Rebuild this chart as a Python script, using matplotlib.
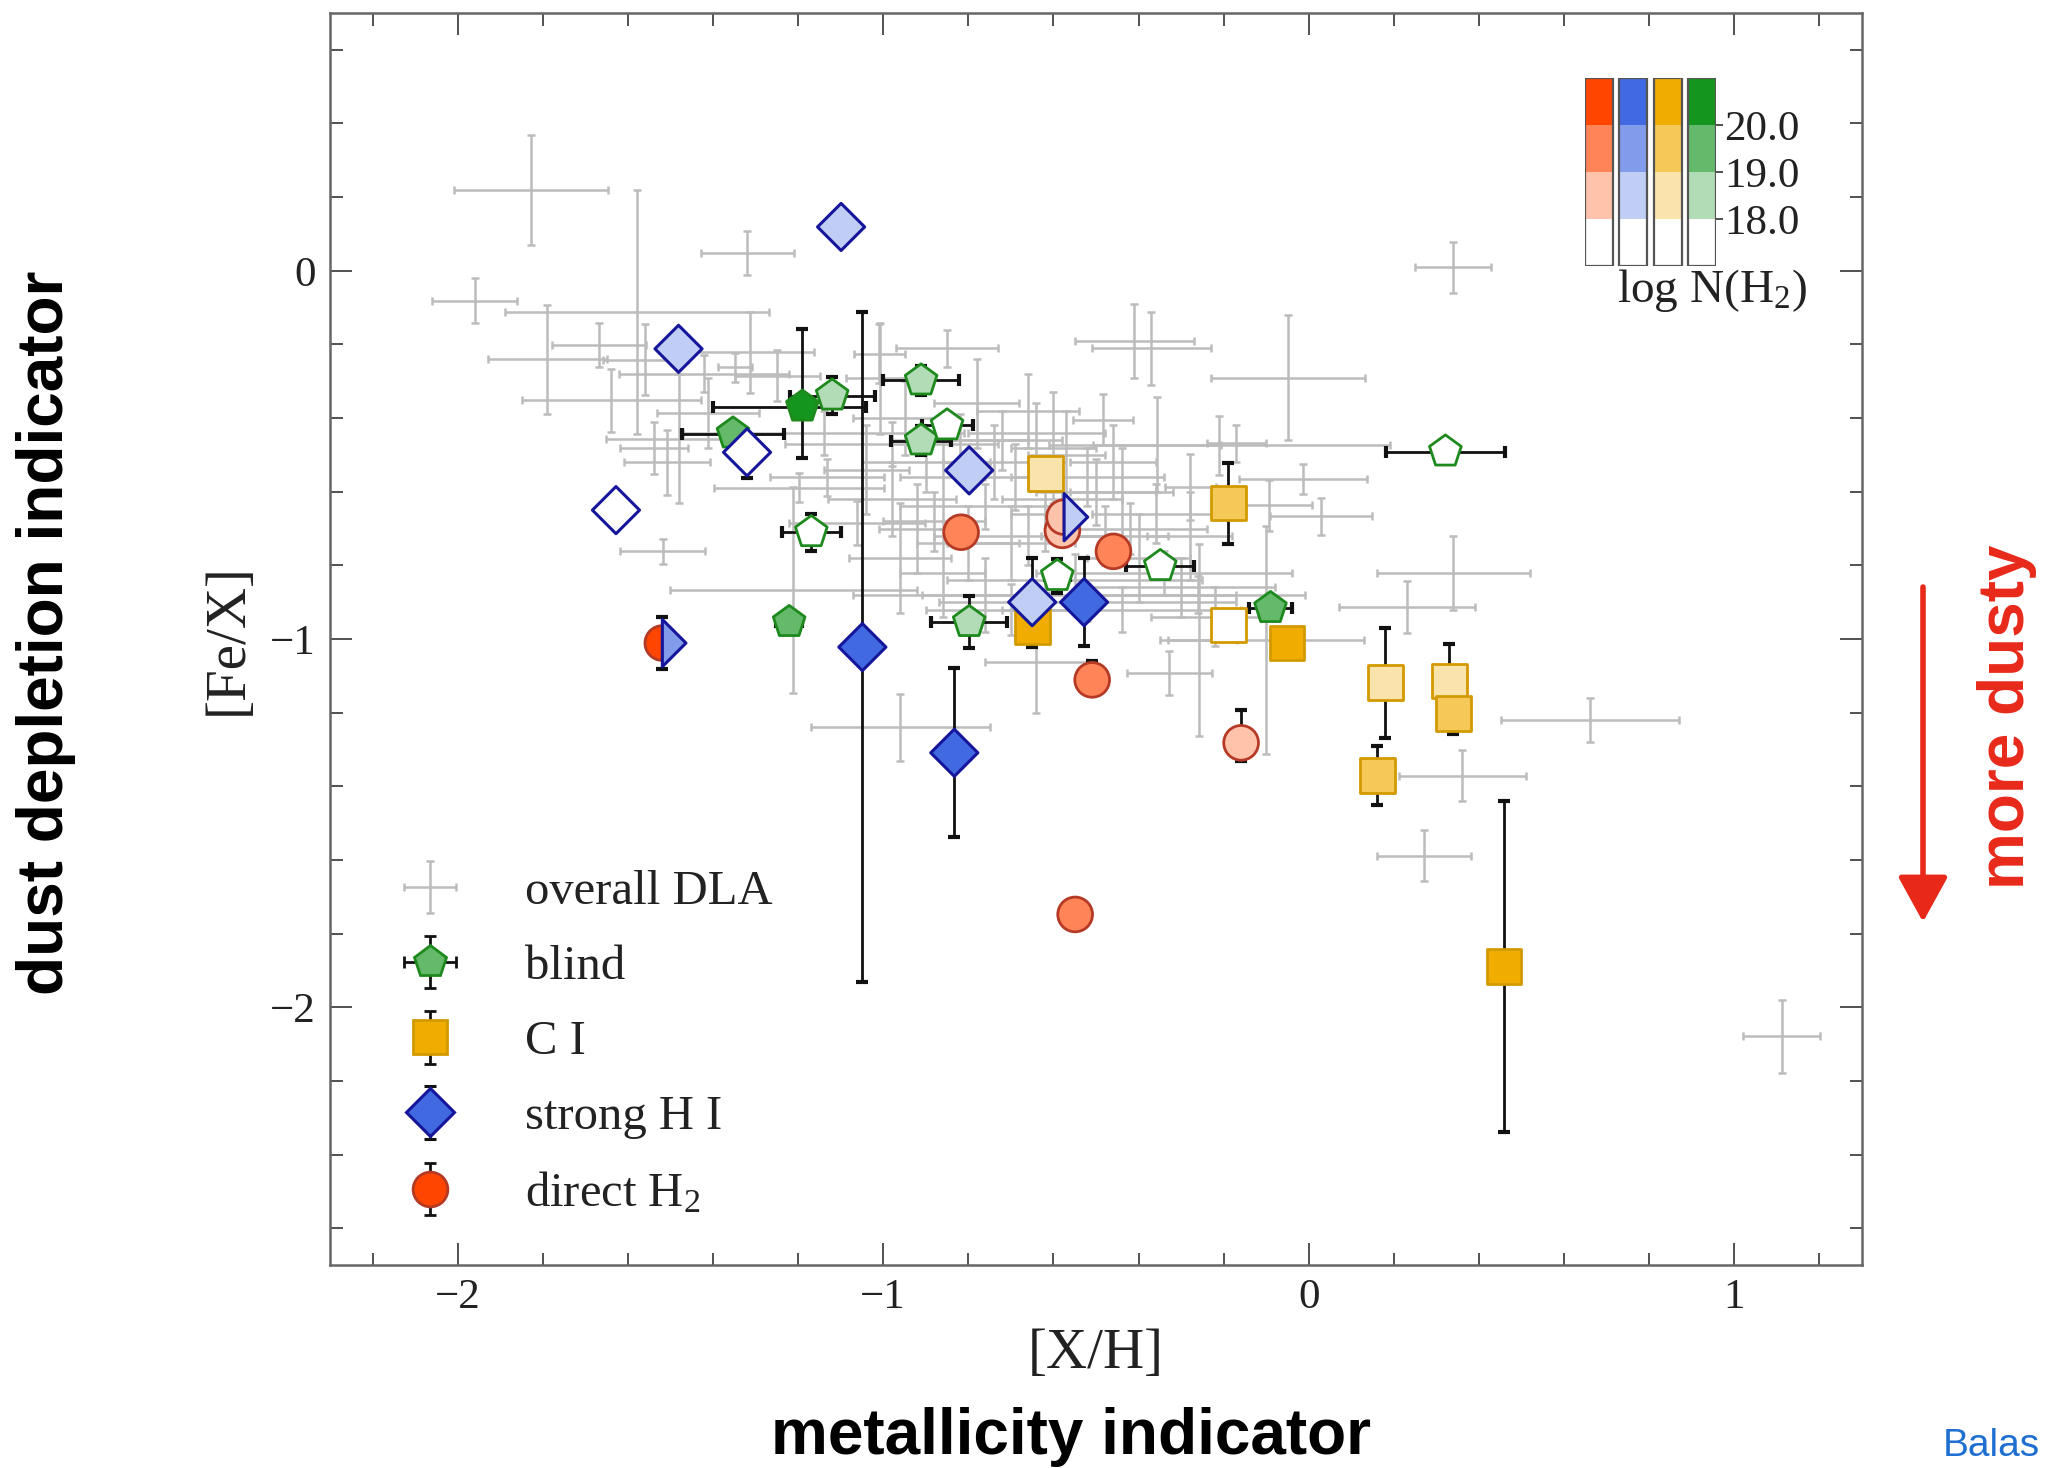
import numpy as np
import matplotlib.pyplot as plt
from matplotlib.path import Path
from matplotlib.colors import to_rgb
from matplotlib.ticker import MultipleLocator
from matplotlib.container import ErrorbarContainer
from matplotlib.legend_handler import HandlerErrorbar
from matplotlib.patches import FancyArrowPatch

plt.rcParams['font.family'] = ['Liberation Serif', 'DejaVu Serif']
plt.rcParams['mathtext.fontset'] = 'custom'
plt.rcParams['mathtext.rm'] = 'Liberation Serif'
plt.rcParams['mathtext.it'] = 'Liberation Serif:italic'

# overall DLA sample: [X/H], [Fe/X] and 1-sigma errors
dla_x = [-1.828, -1.319, -1.960, -1.579, -1.789, -1.668, -1.639, -1.559, -1.313, -1.349,
         -1.481, -1.508, -1.518, -1.211, -1.197, -1.538, -1.421, -1.249, -1.411, -1.007,
         -1.132, -1.061, -0.850, -1.009, 0.339, -0.410, -0.370, -0.049, 0.340, 0.231,
         -0.013, 0.028, -0.210, -0.170, -0.328, -0.259, -0.100, 0.661, 0.361, 0.271,
         1.111, -0.642, -0.960, -0.093, -0.356, -0.483, -0.278,
         -1.14, -0.62, -0.55, -0.95, -0.90, -0.78, -0.72, -0.66, -0.60, -0.52,
         -0.44, -0.36, -0.28, -0.98, -0.88, -0.76, -0.70, -0.62, -0.48, -0.40,
         -0.86, -0.76, -0.44, -0.30, -0.22, -1.04, -0.96, -0.82, -0.69, -0.58,
         -0.98, -0.86, -0.74, -0.66, -0.57, -0.50, -0.42, -0.34, -0.26, -0.52,
         -0.70, -0.92, -0.80, -0.64, -0.46]
dla_y = [0.219, 0.048, -0.081, -0.112, -0.240, -0.201, -0.352, -0.241, -0.221, -0.262,
         -0.456, -0.520, -0.762, -0.867, -0.589, -0.482, -0.279, -0.285, -0.385, -0.292,
         -0.561, -0.686, -0.211, -0.225, 0.009, -0.190, -0.211, -0.290, -0.821, -0.913,
         -0.566, -0.667, -0.474, -0.469, -1.092, -1.003, -1.003, -1.221, -1.371, -1.588,
         -2.079, -1.062, -1.240, -0.637, -0.472, -0.404, -0.588,
         -0.44, -0.88, -0.84, -0.40, -0.52, -0.36, -0.46, -0.38, -0.48, -0.56,
         -0.60, -0.66, -0.72, -0.62, -0.68, -0.64, -0.74, -0.66, -0.72, -0.78,
         -0.82, -0.88, -0.92, -0.86, -0.94, -0.54, -0.78, -0.46, -0.56, -0.62,
         -0.47, -0.56, -0.52, -0.72, -0.50, -0.60, -0.70, -0.82, -0.88, -0.90,
         -0.92, -0.70, -0.74, -0.44, -0.52]
dla_xerr = [0.181, 0.110, 0.100, 0.310, 0.140, 0.110, 0.210, 0.100, 0.150, 0.040,
            0.170, 0.100, 0.100, 0.290, 0.200, 0.080, 0.200, 0.100, 0.120, 0.080,
            0.135, 0.160, 0.120, 0.060, 0.090, 0.140, 0.140, 0.180, 0.180, 0.160,
            0.150, 0.120, 0.400, 0.070, 0.100, 0.090, 0.230, 0.210, 0.150, 0.110,
            0.090, 0.120, 0.210, 0.100, 0.150, 0.070, 0.060,
            0.33, 0.45, 0.30, 0.12, 0.15, 0.10, 0.14, 0.12, 0.10, 0.18,
            0.12, 0.15, 0.10, 0.15, 0.12, 0.20, 0.15, 0.08, 0.15, 0.12,
            0.10, 0.15, 0.28, 0.22, 0.15, 0.10, 0.12, 0.16, 0.10, 0.14,
            0.25, 0.10, 0.12, 0.22, 0.09, 0.14, 0.18, 0.30, 0.25, 0.35,
            0.20, 0.09, 0.12, 0.16, 0.10]
dla_yerr = [0.149, 0.060, 0.060, 0.330, 0.148, 0.060, 0.085, 0.097, 0.110, 0.040,
            0.176, 0.088, 0.033, 0.280, 0.040, 0.070, 0.050, 0.070, 0.095, 0.150,
            0.050, 0.060, 0.050, 0.080, 0.070, 0.100, 0.100, 0.170, 0.100, 0.070,
            0.040, 0.050, 0.080, 0.050, 0.060, 0.260, 0.310, 0.060, 0.070, 0.070,
            0.100, 0.140, 0.090, 0.070, 0.130, 0.070, 0.090,
            0.06, 0.05, 0.07, 0.10, 0.08, 0.12, 0.08, 0.10, 0.15, 0.08,
            0.12, 0.08, 0.12, 0.10, 0.08, 0.06, 0.10, 0.10, 0.08, 0.12,
            0.12, 0.10, 0.06, 0.08, 0.08, 0.12, 0.15, 0.07, 0.09, 0.10,
            0.06, 0.14, 0.10, 0.08, 0.12, 0.09, 0.07, 0.06, 0.05, 0.05,
            0.07, 0.12, 0.10, 0.08, 0.10]

# log N(H2) bin of each absorber: 0 <18, 1 18-19, 2 19-20, 3 >20
nh2_edges = [17, 18, 19, 20, 21]

# blind sample
blind_x = [-1.190, -1.120, -1.353, -0.911, -0.911, -0.850, -1.169, -1.221, -0.798, -0.591, -0.349, -0.090, 0.321]
blind_y = [-0.369, -0.339, -0.442, -0.298, -0.461, -0.420, -0.710, -0.954, -0.954, -0.829, -0.802, -0.916, -0.491]
blind_xlo = [0.21, 0.10, 0.12, 0.09, 0.07, 0.06, 0.07, 0.03, 0.09, 0.03, 0.08, 0.05, 0.14]
blind_xhi = [0.15, 0.10, 0.12, 0.09, 0.07, 0.06, 0.07, 0.03, 0.09, 0.03, 0.08, 0.05, 0.14]
blind_ylo = [0.14, 0.05, 0.00, 0.04, 0.04, 0.03, 0.05, 0.00, 0.07, 0.045, 0.02, 0.00, 0.02]
blind_yhi = [0.21, 0.05, 0.00, 0.04, 0.04, 0.03, 0.05, 0.00, 0.07, 0.045, 0.02, 0.00, 0.02]
blind_bin = [3, 1, 2, 1, 1, 0, 0, 2, 1, 0, 0, 2, 0]

# C I selected
ci_x = [-0.619, -0.650, -0.189, -0.189, -0.051, 0.180, 0.330, 0.340, 0.161, 0.459]
ci_y = [-0.550, -0.967, -0.631, -0.962, -1.011, -1.119, -1.114, -1.203, -1.371, -1.889]
ci_ylo = [0.0, 0.055, 0.11, 0.0, 0.0, 0.15, 0.0, 0.055, 0.08, 0.45]
ci_yhi = [0.0, 0.055, 0.11, 0.0, 0.0, 0.15, 0.10, 0.0, 0.08, 0.45]
ci_bin = [1, 3, 2, 0, 3, 1, 1, 2, 2, 3]

# strong H I selected
hi_x = [-1.099, -1.481, -1.320, -1.628, -0.798, -1.049, -0.833, -0.650, -0.528]
hi_y = [0.119, -0.212, -0.493, -0.650, -0.542, -1.022, -1.309, -0.900, -0.900]
hi_ylo = [0.0, 0.0, 0.07, 0.0, 0.0, 0.91, 0.23, 0.12, 0.12]
hi_yhi = [0.0, 0.0, 0.0, 0.0, 0.0, 0.91, 0.23, 0.12, 0.12]
hi_bin = [1, 1, 0, 0, 1, 3, 3, 1, 3]

# direct H2 detections
h2_x = [-0.817, -0.579, -0.459, -0.509, -0.159, -0.549]
h2_y = [-0.710, -0.705, -0.762, -1.111, -1.282, -1.748]
h2_ylo = [0.0, 0.0, 0.0, 0.0, 0.05, 0.0]
h2_yhi = [0.0, 0.0, 0.0, 0.05, 0.09, 0.0]
h2_bin = [2, 1, 2, 2, 1, 2]

# absorbers in both the strong H I and direct H2 samples
both_x = [-1.519, -0.575]
both_y = [-1.011, -0.669]
both_yerr = [0.07, 0.0]
both_h2_bin = [3, 1]
both_hi_bin = [2, 1]

red, blue, yellow, green = '#FF4500', '#4169E1', '#F0AD00', '#14961E'
red_edge, blue_edge, yellow_edge, green_edge = '#B53A26', '#15169A', '#D29A00', '#1E8A1E'
nh2_alpha = [0.0, 0.33, 0.66, 1.0]


def shade(color, b):
    c = np.array(to_rgb(color))
    a = nh2_alpha[b]
    return tuple(1 - a * (1 - c))


err_kw = dict(fmt='none', ecolor='#111111', elinewidth=2.0, capsize=4, capthick=3, zorder=2)
gray_kw = dict(fmt='none', ecolor='#bcbcbc', elinewidth=1.8, capsize=3, capthick=1.8)

fig = plt.figure(figsize=(20.48, 14.68), dpi=100)
ax = fig.add_axes([330 / 2048, 1 - 1265 / 1468, 1532 / 2048, 1252 / 1468])

ax.errorbar(dla_x, dla_y, xerr=dla_xerr, yerr=dla_yerr, zorder=1, **gray_kw)

ax.errorbar(h2_x, h2_y, yerr=[h2_ylo, h2_yhi], **err_kw)
ax.errorbar(ci_x, ci_y, yerr=[ci_ylo, ci_yhi], **err_kw)
ax.errorbar(blind_x, blind_y, xerr=[blind_xlo, blind_xhi], yerr=[blind_ylo, blind_yhi], **err_kw)
ax.errorbar(hi_x, hi_y, yerr=[hi_ylo, hi_yhi], **err_kw)
ax.errorbar(both_x, both_y, yerr=both_yerr, **err_kw)

ax.scatter(h2_x, h2_y, s=25 ** 2, marker='o', c=[shade(red, b) for b in h2_bin],
           edgecolors=red_edge, linewidths=2.0, zorder=3)
ax.scatter(ci_x, ci_y, s=25 ** 2, marker='s', c=[shade(yellow, b) for b in ci_bin],
           edgecolors=yellow_edge, linewidths=2.0, zorder=4)
ax.scatter(blind_x, blind_y, s=24 ** 2, marker='p', c=[shade(green, b) for b in blind_bin],
           edgecolors=green_edge, linewidths=2.0, zorder=5)
ax.scatter(hi_x, hi_y, s=24 ** 2, marker='D', c=[shade(blue, b) for b in hi_bin],
           edgecolors=blue_edge, linewidths=2.2, zorder=6)

# split symbols: left half circle (H2) + right half diamond (H I)
t = np.linspace(np.pi / 2, 3 * np.pi / 2, 40)
half_circle = Path(np.column_stack([np.cos(t), np.sin(t)]).tolist() + [[0, 1]], closed=True)
half_diamond = Path([[0, 1], [1, 0], [0, -1], [0, 1]], closed=True)
ax.scatter(both_x, both_y, s=25 ** 2, marker=half_circle, c=[shade(red, b) for b in both_h2_bin],
           edgecolors=red_edge, linewidths=2.0, zorder=7)
ax.scatter(both_x, both_y, s=34 ** 2, marker=half_diamond, c=[shade(blue, b) for b in both_hi_bin],
           edgecolors=blue_edge, linewidths=2.2, zorder=7)

ax.set_xlim(-2.3, 1.3)
ax.set_ylim(-2.7, 0.7)
ax.xaxis.set_major_locator(MultipleLocator(1))
ax.xaxis.set_minor_locator(MultipleLocator(0.2))
ax.yaxis.set_major_locator(MultipleLocator(1))
ax.yaxis.set_minor_locator(MultipleLocator(0.2))
ax.tick_params(which='both', direction='in', top=True, right=True, colors='#333333',
               labelcolor='#222222', labelsize=31, pad=10)
ax.tick_params(which='major', length=16, width=1.2)
ax.tick_params(which='minor', length=9, width=1.2)
for sp in ax.spines.values():
    sp.set_color('#666666')
    sp.set_linewidth(1.8)

ax.set_xlabel('[X/H]', fontsize=41, color='#222222')
ax.set_ylabel('[Fe/X]', fontsize=41, color='#222222')
ax.xaxis.set_label_coords(0.5, -0.05)
ax.yaxis.set_label_coords(-0.05, 0.5)

# legend proxies
mark_kw = dict(ecolor='#111111', elinewidth=2.0, capsize=4, capthick=3)
h_dla = ax.errorbar([np.nan], [np.nan], xerr=[0.1], yerr=[0.1], **gray_kw)
h_blind = ax.errorbar([np.nan], [np.nan], xerr=[0.1], yerr=[0.1], fmt='p', ms=24,
                      mfc=shade(green, 2), mec=green_edge, mew=2.0, **mark_kw)
h_ci = ax.errorbar([np.nan], [np.nan], yerr=[0.1], fmt='s', ms=25, mfc=yellow,
                   mec=yellow_edge, mew=2.0, **mark_kw)
h_hi = ax.errorbar([np.nan], [np.nan], yerr=[0.1], fmt='D', ms=24, mfc=blue,
                   mec=blue_edge, mew=2.2, **mark_kw)
h_h2 = ax.errorbar([np.nan], [np.nan], yerr=[0.1], fmt='o', ms=25, mfc=red,
                   mec=red_edge, mew=2.0, **mark_kw)
ax.legend([h_dla, h_blind, h_ci, h_hi, h_h2],
          ['overall DLA', 'blind', 'C I', 'strong H I', 'direct H$_2$'],
          loc='upper left', bbox_to_anchor=(403 / 2048, 1 - 870 / 1468),
          bbox_transform=fig.transFigure, frameon=False, fontsize=35,
          handlelength=1.12, handletextpad=1.38, labelspacing=0.64,
          borderpad=0, borderaxespad=0, labelcolor='#222222',
          handler_map={ErrorbarContainer: HandlerErrorbar(xerr_size=0.54)})

# log N(H2) colour key
cax = fig.add_axes([1585 / 2048, 1 - 266 / 1468, 131 / 2048, 188 / 1468])
for i, base in enumerate([red, blue, yellow, green]):
    for b in range(4):
        cax.bar(i, nh2_edges[b + 1] - nh2_edges[b], bottom=nh2_edges[b], width=0.8,
                color=shade(base, b), edgecolor='none')
    cax.bar(i, nh2_edges[-1] - nh2_edges[0], bottom=nh2_edges[0], width=0.8,
            fill=False, edgecolor='#555555', linewidth=1.6)
cax.set_xlim(-0.4, 3.4)
cax.set_ylim(nh2_edges[0], nh2_edges[-1])
for sp in cax.spines.values():
    sp.set_visible(False)
cax.set_xticks([])
cax.yaxis.tick_right()
cax.set_yticks(nh2_edges[1:-1])
cax.set_yticklabels(['%.1f' % v for v in nh2_edges[1:-1]])
cax.tick_params(axis='y', direction='out', length=5, width=1.2, colors='#333333',
                labelcolor='#222222', labelsize=31, pad=1)
fig.text(1712 / 2048, 1 - 291 / 1468, 'log N(H$_2$)', fontsize=34, ha='center', va='center',
         color='#222222')

# annotations around the panel
sans = ['Liberation Sans', 'DejaVu Sans']
fig.text(46 / 2048, 1 - 633 / 1468, 'dust depletion indicator', rotation=90, ha='center',
         va='center', fontsize=46, weight='bold', family=sans, color='black')
fig.text(1071 / 2048, 1 - 1437 / 1468, 'metallicity indicator', ha='center', va='center',
         fontsize=46, weight='bold', family=sans, color='black')
fig.text(2007 / 2048, 1 - 717 / 1468, 'more dusty', rotation=90, ha='center', va='center',
         fontsize=46, weight='bold', family=sans, color='#E8291A')
fig.add_artist(FancyArrowPatch((1923 / 2048, 1 - 587 / 1468), (1923 / 2048, 1 - 922 / 1468),
                               transform=fig.transFigure,
                               arrowstyle='-|>,head_length=1.0,head_width=0.55',
                               mutation_scale=28, color='#E8291A', linewidth=4,
                               shrinkA=0, shrinkB=0))
fig.text(1943 / 2048, 1 - 1456 / 1468, 'Balas', ha='left', va='baseline',
         fontsize=28, family=sans, color='#1F6FD1')

fig.savefig('out.png', dpi=100)
